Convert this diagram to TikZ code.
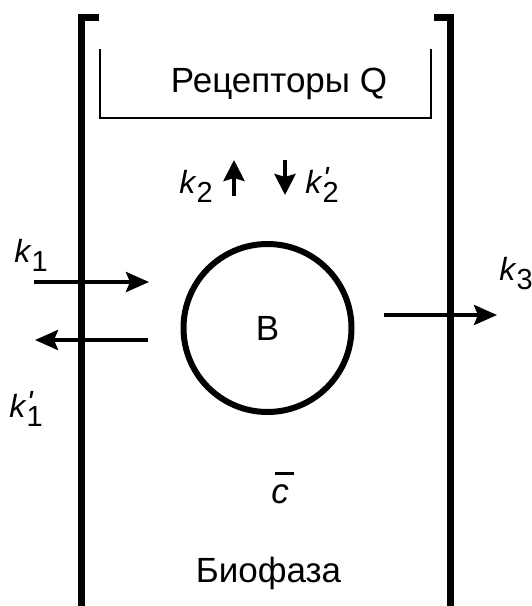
\documentclass[tikz,border=0pt]{standalone}
\usepackage{fontspec}
\setmainfont{Liberation Sans}
\usetikzlibrary{arrows.meta}
\newcommand{\ksub}[1]{\textit{k}\raisebox{-0.31em}{\fontsize{14.5}{14.5}\selectfont #1}}
\newcommand{\ksubp}[1]{\textit{k}\makebox[0pt][l]{\raisebox{-0.31em}{\fontsize{14.5}{14.5}\selectfont #1}}\raisebox{0.1em}{\textit{\textquotesingle}}}
\newcommand{\cbar}{\makebox[0pt][l]{\hspace{0.1em}\rule[0.8em]{0.55em}{1.5pt}}\textit{c}}

\begin{document}
\begin{tikzpicture}[x=0.5pt,y=-0.5pt,font=\fontsize{16}{19}\selectfont]
    % Define styles
    \tikzstyle{wall} = [line width=3.5pt, line join=miter]
    \tikzstyle{tray} = [line width=1.4pt]
    \tikzstyle{txt} = [inner sep=0pt]
    \tikzstyle{bigtxt} = [inner sep=0pt, font=\fontsize{17.5}{21}\selectfont]
    \tikzstyle{arrow} = [line width=2pt, -{Stealth[length=11.5pt, width=10pt, inset=2pt]}]
    \tikzstyle{smallarrow} = [line width=2pt, -{Stealth[length=10.5pt, width=10.5pt, inset=1.5pt]}]
    \useasboundingbox (0,0) rectangle (531,606);

    % Walls and receptors
    \draw[wall] (99,17.5) -- (81.5,17.5) -- (81.5,612);
    \draw[wall] (434,17.5) -- (450,17.5) -- (450,612);
    \draw[tray] (100,49) -- (100,118) -- (431,118) -- (431,49);

    % Components
    \node[bigtxt, anchor=base] (receptors) at (279,92) {Рецепторы Q};
    \node[circle, draw, line width=3pt, minimum size=84pt, inner sep=0pt, font=\fontsize{17.5}{21}\selectfont] (b) at (267.5,328) {B};
    \node[bigtxt, anchor=base] (cbar) at (280,503) {\cbar};
    \node[bigtxt, anchor=base] (biophase) at (268.5,582) {Биофаза};

    % Rate constants
    \node[txt, anchor=base west] (k2) at (179,193) {\ksub{2}};
    \node[txt, anchor=base west] (k2p) at (305,193) {\ksubp{2}};
    \node[txt, anchor=base west] (k1) at (14,262) {\ksub{1}};
    \node[txt, anchor=base west] (k1p) at (9,417) {\ksubp{1}};
    \node[txt, anchor=base west] (k3) at (499,280) {\ksub{3}};

    % Arrow ends
    \coordinate (k1from) at (34,282);
    \coordinate (k1to) at (149,282);
    \coordinate (k1pfrom) at (148,340);
    \coordinate (k1pto) at (35,340);
    \coordinate (k2from) at (234,196);
    \coordinate (k2to) at (234,160);
    \coordinate (k2pfrom) at (285,160);
    \coordinate (k2pto) at (285,195);
    \coordinate (k3from) at (384,315);
    \coordinate (k3to) at (497,315);

    % Connections
    \draw[arrow] (k1from) -- (k1to);
    \draw[arrow] (k1pfrom) -- (k1pto);
    \draw[smallarrow] (k2from) -- (k2to);
    \draw[smallarrow] (k2pfrom) -- (k2pto);
    \draw[arrow] (k3from) -- (k3to);
\end{tikzpicture}
\end{document}
